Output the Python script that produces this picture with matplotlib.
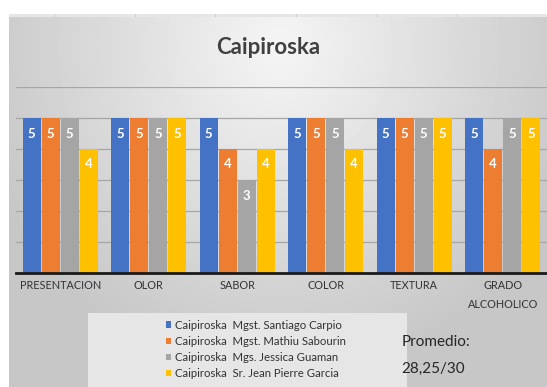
import matplotlib.pyplot as plt
import matplotlib.patches as mpatches
import numpy as np

plt.rcParams['font.family'] = ['Lato', 'DejaVu Sans']

categorias = ['PRESENTACION', 'OLOR', 'SABOR', 'COLOR', 'TEXTURA', 'GRADO\nALCOHOLICO']
jueces = ['Caipiroska  Mgst. Santiago Carpio',
          'Caipiroska  Mgst. Mathiu Sabourin',
          'Caipiroska  Mgs. Jessica Guaman',
          'Caipiroska  Sr. Jean Pierre Garcia']
santiago = [5, 5, 5, 5, 5, 5]
mathiu = [5, 5, 4, 5, 5, 4]
jessica = [5, 5, 3, 5, 5, 5]
jean = [4, 5, 4, 4, 5, 5]
colores = ['#4472C4', '#ED7D31', '#A5A5A5', '#FFC000']

W, H = 547, 387
fig = plt.figure(figsize=(W / 100, H / 100), dpi=100)
fig.patch.set_facecolor('white')

# fondo degradado del area del grafico
bg = fig.add_axes([9 / W, 0, 1 - 9 / W, (H - 16) / H])
yy, xx = np.mgrid[0:371, 0:538]
r = np.sqrt(((xx - 270) / 310.0) ** 2 + ((yy - 30) / 330.0) ** 2)
val = 0.96 - 0.18 * np.clip(r, 0, 1) ** 1.0
bg.imshow(val, cmap='gray', vmin=0, vmax=1, aspect='auto', extent=[0, 1, 0, 1], origin='upper')
bg.set_axis_off()

# linea superior con marcas
top = fig.add_axes([9 / W, (H - 17) / H, 1 - 9 / W, 3 / H])
top.set_facecolor('#e6e6e6')
top.set_xlim(9, W)
top.set_ylim(0, 1)
for xm in [54, 135, 215, 296, 377, 457]:
    top.axvline(xm, color='#d0d0d0', lw=0.8)
top.set_xticks([])
top.set_yticks([])
for s in top.spines.values():
    s.set_visible(False)

ax = fig.add_axes([16 / W, (H - 273) / H, (W - 16) / W, (273 - 87) / H])
ax.set_facecolor('none')
x = np.arange(len(categorias))
ancho = 0.205
paso = 0.2147
series = [santiago, mathiu, jessica, jean]
for i, (vals, c) in enumerate(zip(series, colores)):
    pos = x + (i - 1.5) * paso
    ax.bar(pos, vals, width=ancho, color=c, label=jueces[i], zorder=3)
    for p, v in zip(pos, vals):
        ax.text(p, v - 0.5, str(v), ha='center', va='center', color='white',
                fontsize=9.5, fontweight='bold', zorder=4)

ax.set_xlim(-0.5, 5.5)
ax.set_ylim(0, 6)
ax.set_yticks([1, 2, 3, 4, 5, 6])
ax.yaxis.grid(True, color='#a6a6a6', lw=0.9, zorder=0)
ax.tick_params(axis='y', length=0, labelleft=False)
ax.tick_params(axis='x', length=0, pad=5)
ax.set_xticks(x)
ax.set_xticklabels(categorias, fontsize=7.8, color='#333333', linespacing=1.9)
for s in ['top', 'right', 'left']:
    ax.spines[s].set_visible(False)
ax.spines['bottom'].set_color('#1a1a1a')
ax.spines['bottom'].set_linewidth(2)
ax.spines['bottom'].set_zorder(5)

fig.text(268 / W, 1 - 47 / H, 'Caipiroska', ha='center', va='center',
         fontsize=16, fontweight='bold', color='#404040')

# caja de la leyenda
fig.patches.append(mpatches.Rectangle((88 / W, 0), (407 - 88) / W, (H - 313) / H,
                                      transform=fig.transFigure, facecolor='#e6e6e6',
                                      edgecolor='none', zorder=1))
leg = fig.legend(loc='upper left', bbox_to_anchor=(160 / W, 1 - 314 / H), frameon=False,
                 fontsize=8.2, handlelength=0.5, handleheight=0.5, handletextpad=0.3,
                 labelspacing=0.45, borderpad=0)
for t in leg.get_texts():
    t.set_color('#333333')

fig.text(436 / W, 1 - 342 / H, 'Promedio:', ha='center', va='center', fontsize=11, color='#262626')
fig.text(433 / W, 1 - 369 / H, '28,25/30', ha='center', va='center', fontsize=11, color='#262626')

fig.savefig('out.png', dpi=100)
